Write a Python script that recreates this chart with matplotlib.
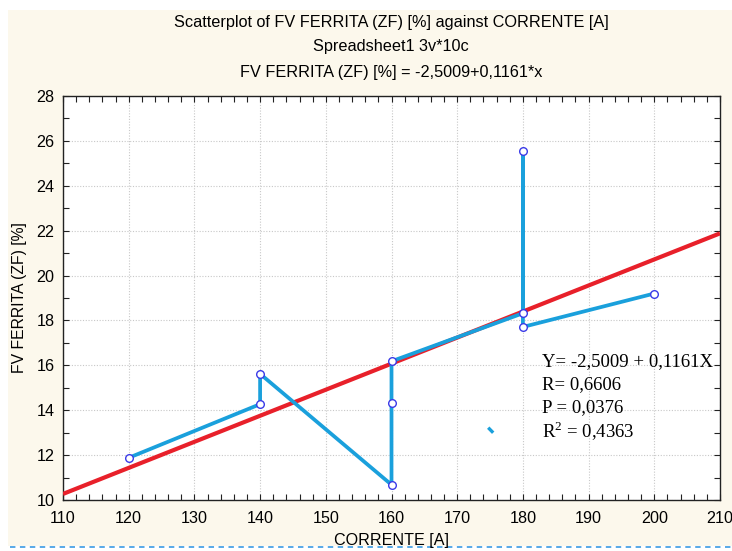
import matplotlib
matplotlib.use("Agg")
import matplotlib.pyplot as plt
from matplotlib.patches import Rectangle
from matplotlib.lines import Line2D
from matplotlib.ticker import MultipleLocator
import numpy as np

corrente = [120, 140, 140, 160, 160, 160, 180, 180, 180, 200]
ferrita = [11.88, 14.27, 15.62, 10.68, 14.33, 16.18, 18.32, 25.53, 17.71, 19.2]
artifact_x = [174.9, 175.3]
artifact_y = [13.17, 13.05]
intercept = -2.5009
slope = 0.1161
xlim = (110, 210)
ylim = (10, 28)
title_lines = ["Scatterplot of FV FERRITA (ZF) [%] against CORRENTE [A]",
               "Spreadsheet1 3v*10c",
               "FV FERRITA (ZF) [%] = -2,5009+0,1161*x"]
stats_lines = ["Y= -2,5009 + 0,1161X", "R= 0,6606", "P = 0,0376", "R$^2$ = 0,4363"]

W, H = 732, 551
plt.rcParams['font.family'] = ['Liberation Sans', 'DejaVu Sans']
plt.rcParams['mathtext.fontset'] = 'custom'
plt.rcParams['mathtext.rm'] = 'Liberation Serif'
fig = plt.figure(figsize=(W / 100, H / 100), dpi=100, facecolor="white")

# cream background panel
bg = Rectangle((8 / W, 1 - 546 / H), 1 - 8 / W, (546 - 10) / H,
               transform=fig.transFigure, facecolor="#fcf8ec", edgecolor="none", zorder=-5)
fig.patches.append(bg)
fig.lines.append(Line2D([10 / W, 1], [1 - 547 / H, 1 - 547 / H], transform=fig.transFigure,
                        color="#4aa3e6", lw=1.3, ls=(0, (3, 2.5)), zorder=-4))

ax = fig.add_axes([63 / W, 1 - 500 / H, (720 - 63) / W, (500 - 96) / H])
ax.set_zorder(2)
ax.set_facecolor("white")
ax.set_xlim(*xlim)
ax.set_ylim(*ylim)

ax.xaxis.set_major_locator(MultipleLocator(10))
ax.xaxis.set_minor_locator(MultipleLocator(2))
ax.yaxis.set_major_locator(MultipleLocator(2))
ax.yaxis.set_minor_locator(MultipleLocator(1))
ax.tick_params(which="both", direction="in", top=True, right=True, length=4, width=0.8,
               labelsize=11.6, color="#222222")
ax.tick_params(axis="x", pad=8)
ax.tick_params(axis="y", pad=6)
for s in ax.spines.values():
    s.set_linewidth(1.0)
    s.set_color("#222222")
ax.grid(True, which="major", color="#c8c8c8", ls=(0, (1, 1.5)), lw=0.8)

# regression line
xr = np.array(xlim, dtype=float)
ax.plot(xr, intercept + slope * xr, color="#e8202a", lw=3.0, zorder=3, solid_capstyle="butt")
# connected data
ax.plot(corrente, ferrita, color="#1aa0dc", lw=2.7, zorder=4)
ax.plot(corrente, ferrita, ls="none", marker="o", ms=5.5, mfc="white", mec="#3a3ae8",
        mew=1.0, zorder=5)
ax.plot(artifact_x, artifact_y, color="#1aa0dc", lw=2.4, zorder=4)

ax.set_xlabel("CORRENTE [A]", fontsize=11.6)
ax.xaxis.set_label_coords(0.5, -(540 - 500) / (500 - 96))
ax.xaxis.label.set_va("center")
ax.set_ylabel("FV FERRITA (ZF) [%]", fontsize=11.3)
ax.yaxis.set_label_coords(-(63 - 20) / (720 - 63), 0.5)
ax.yaxis.label.set_va("center")

for t, y in zip(title_lines, [22, 47, 72]):
    fig.text(391 / W, 1 - y / H, t, ha="center", va="center", fontsize=11.7)

for t, y in zip(stats_lines, [362, 385, 408, 431]):
    fig.text(542 / W, 1 - y / H, t, ha="left", va="center", family="Liberation Serif",
             fontsize=13.5, zorder=6)

fig.savefig("out.png", dpi=100, facecolor="white")
